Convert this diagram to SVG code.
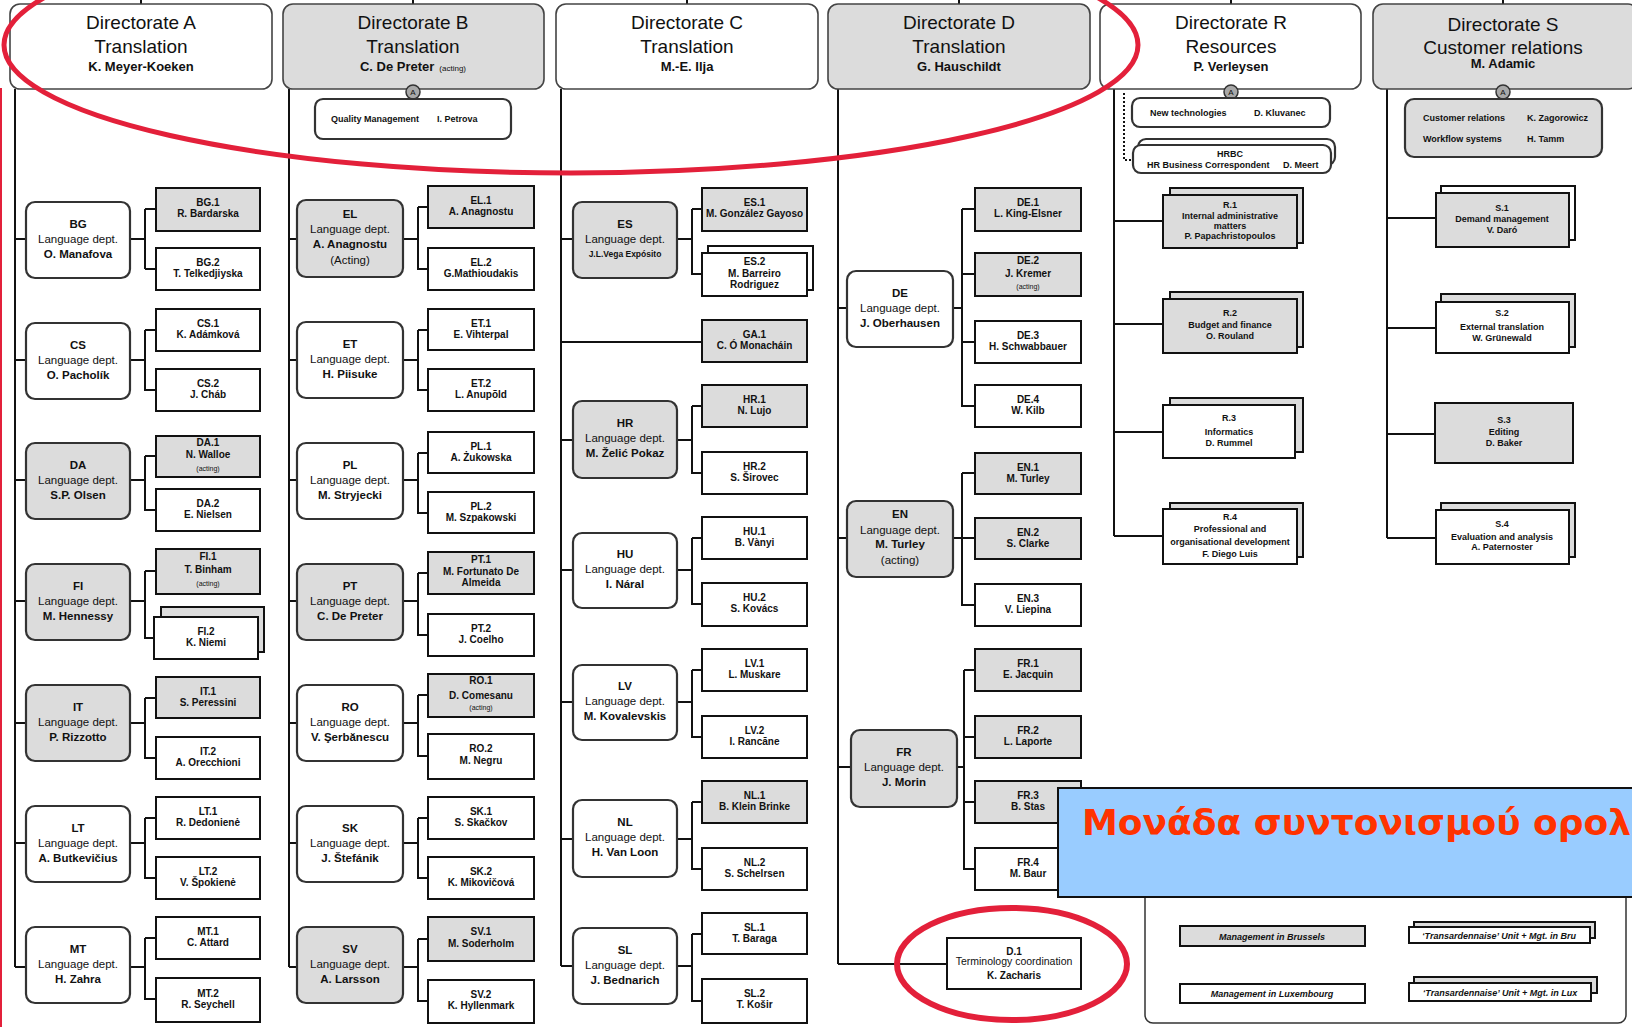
<svg xmlns="http://www.w3.org/2000/svg" width="1632" height="1027" viewBox="0 0 1632 1027">
<style>
.hw{fill:#fff;stroke:#444;stroke-width:1.6}
.hg{fill:#dcdcdc;stroke:#444;stroke-width:1.6}
.dw{fill:#fff;stroke:#333;stroke-width:2.2}
.dg{fill:#dcdcdc;stroke:#333;stroke-width:2.2}
.cw{fill:#fff;stroke:#111;stroke-width:2}
.cg{fill:#dcdcdc;stroke:#111;stroke-width:2}
.ln{fill:none;stroke:#111;stroke-width:2}
.t{font-family:"Liberation Sans",Arial,sans-serif;text-anchor:middle;fill:#111}
.s{font-family:"Liberation Sans",Arial,sans-serif;fill:#111}
.dn{font-size:11.5px}
.bd{font-weight:bold}
.cn{font-size:10px;font-weight:bold}
.ac{font-size:7px;font-weight:normal}
.h{font-size:19px}
.hn{font-size:13px;font-weight:bold}
.sm{font-size:9px;font-weight:bold}
.lg{font-size:9px;font-weight:bold;font-style:italic}
.red{fill:none;stroke:#e3203a}
</style>

<g id="connectors" class="ln">
<path d="M141 0V4M413 0V4M687 0V4M959 0V4M1231 0V4M1503 0V4"/>
<path d="M15 89V967M15 239H26M130 239H145M145 209V269M145 209H156M145 269H156
M15 360H26M130 360H145M145 330V390H156M145 330H156
M15 480H26M130 480H145M145 456V510H156M145 456H156
M15 601H26M130 601H145M145 571V638H154M145 571H156
M15 723H26M130 723H145M145 698V758H156M145 698H156
M15 843H26M130 843H145M145 818V878H156M145 818H156
M15 967H26M130 967H145M145 938V999H156M145 938H156"/>
<path d="M289 89V967M289 239H297M403 239H418M418 207V269H428M418 207H428
M289 360H297M403 360H418M418 330V390H428M418 330H428
M289 480H297M403 480H418M418 453V513H428M418 453H428
M289 601H297M403 601H418M418 573V635H428M418 573H428
M289 723H297M403 723H418M418 695V756H428M418 695H428
M289 843H297M403 843H418M418 818V878H428M418 818H428
M289 967H297M403 967H418M418 939V1001H428M418 939H428"/>
<path d="M561 89V966M561 239H573M677 239H692M692 209V274H702M692 209H702
M561 342H702
M561 440H573M677 440H692M692 406V473H702M692 406H702
M561 570H573M677 570H692M692 538V604H702M692 538H702
M561 702H573M677 702H692M692 670V737H702M692 670H702
M561 839H573M677 839H692M692 802V869H702M692 802H702
M561 966H573M677 966H692M692 934V1001H702M692 934H702"/>
<path d="M838 89V964M838 308H847M953 308H962M962 209V406H975M962 209H975M962 274H975M962 342H975
M838 538H847M953 538H975M962 473V605H975M962 473H975
M838 767H851M957 767H964M964 670V869H975M964 670H975M964 737H975M964 802H975
M838 964H947"/>
<path d="M1114 89V536M1114 221H1163M1114 324H1163M1114 432H1163M1114 536H1163"/>
<path d="M1387 89V538M1387 218H1436M1387 328H1436M1387 434H1435M1387 538H1436"/>
<path d="M1124 93V160H1132" stroke-dasharray="2 2"/>
</g>

<g id="dirA"><rect class="hw" x="10" y="4" width="262" height="85" rx="10"/><text class="t"><tspan x="141" y="29" class="h">Directorate A</tspan><tspan x="141" y="53" class="h">Translation</tspan><tspan x="141" y="71" class="hn">K. Meyer-Koeken</tspan></text></g>
<g id="dirB"><rect class="hg" x="283" y="4" width="261" height="85" rx="10"/><text class="t"><tspan x="413" y="29" class="h">Directorate B</tspan><tspan x="413" y="53" class="h">Translation</tspan></text><text class="t" x="413" y="71"><tspan class="hn">C. De Preter</tspan><tspan font-size="8px" dx="5">(acting)</tspan></text></g>
<g id="dirC"><rect class="hw" x="556" y="4" width="262" height="85" rx="10"/><text class="t"><tspan x="687" y="29" class="h">Directorate C</tspan><tspan x="687" y="53" class="h">Translation</tspan><tspan x="687" y="71" class="hn">M.-E. Ilja</tspan></text></g>
<g id="dirD"><rect class="hg" x="828" y="4" width="262" height="85" rx="10"/><text class="t"><tspan x="959" y="29" class="h">Directorate D</tspan><tspan x="959" y="53" class="h">Translation</tspan><tspan x="959" y="71" class="hn">G. Hauschildt</tspan></text></g>
<g id="dirR"><rect class="hw" x="1100" y="4" width="261" height="85" rx="10"/><text class="t"><tspan x="1231" y="29" class="h">Directorate R</tspan><tspan x="1231" y="53" class="h">Resources</tspan><tspan x="1231" y="71" class="hn">P. Verleysen</tspan></text></g>
<g id="dirS"><rect class="hg" x="1373" y="4" width="265" height="85" rx="10"/><text class="t"><tspan x="1503" y="31" class="h">Directorate S</tspan><tspan x="1503" y="54" class="h">Customer relations</tspan><tspan x="1503" y="68" class="hn">M. Adamic</tspan></text></g>

<g id="circles">
<circle cx="413" cy="92" r="7" fill="#a8a8a8" stroke="#333" stroke-width="1.5"/><text class="t" x="413" y="95" font-size="8px">A</text>
<circle cx="1231" cy="92" r="7" fill="#a8a8a8" stroke="#333" stroke-width="1.5"/><text class="t" x="1231" y="95" font-size="8px">A</text>
<circle cx="1503" cy="92" r="7" fill="#a8a8a8" stroke="#333" stroke-width="1.5"/><text class="t" x="1503" y="95" font-size="8px">A</text>
</g>

<g id="qm"><rect class="dw" x="315" y="99" width="196" height="40" rx="8"/><text class="s sm" x="331" y="122">Quality Management</text><text class="s sm" x="437" y="122">I. Petrova</text></g>
<g id="newtech"><rect class="dw" x="1132" y="98" width="198" height="29" rx="8"/><text class="s sm" x="1150" y="116">New technologies</text><text class="s sm" x="1254" y="116">D. Kluvanec</text></g>
<g id="hrbc"><rect class="dw" x="1138" y="139" width="197" height="26" rx="8"/><rect class="dw" x="1133" y="145" width="198" height="28" rx="8"/><text class="t sm" x="1230" y="157">HRBC</text><text class="s sm" x="1147" y="168">HR Business Correspondent</text><text class="s sm" x="1283" y="168">D. Meert</text></g>
<g id="custrel"><rect class="dg" x="1405" y="99" width="197" height="58" rx="9"/><text class="s sm"><tspan x="1423" y="121">Customer relations</tspan><tspan x="1527" y="121">K. Zagorowicz</tspan><tspan x="1423" y="142">Workflow systems</tspan><tspan x="1527" y="142">H. Tamm</tspan></text></g>

<!-- Column A -->
<g id="bg"><rect class="dw" x="26" y="202" width="104" height="76" rx="9"/><text class="t dn"><tspan x="78" y="228" class="bd">BG</tspan><tspan x="78" y="243">Language dept.</tspan><tspan x="78" y="258" class="bd">O. Manafova</tspan></text></g>
<g id="cs"><rect class="dw" x="26" y="323" width="104" height="76" rx="9"/><text class="t dn"><tspan x="78" y="349" class="bd">CS</tspan><tspan x="78" y="364">Language dept.</tspan><tspan x="78" y="379" class="bd">O. Pacholík</tspan></text></g>
<g id="da"><rect class="dg" x="26" y="443" width="104" height="76" rx="9"/><text class="t dn"><tspan x="78" y="469" class="bd">DA</tspan><tspan x="78" y="484">Language dept.</tspan><tspan x="78" y="499" class="bd">S.P. Olsen</tspan></text></g>
<g id="fi"><rect class="dg" x="26" y="564" width="104" height="76" rx="9"/><text class="t dn"><tspan x="78" y="590" class="bd">FI</tspan><tspan x="78" y="605">Language dept.</tspan><tspan x="78" y="620" class="bd">M. Hennessy</tspan></text></g>
<g id="it"><rect class="dg" x="26" y="685" width="104" height="76" rx="9"/><text class="t dn"><tspan x="78" y="711" class="bd">IT</tspan><tspan x="78" y="726">Language dept.</tspan><tspan x="78" y="741" class="bd">P. Rizzotto</tspan></text></g>
<g id="lt"><rect class="dw" x="26" y="806" width="104" height="76" rx="9"/><text class="t dn"><tspan x="78" y="832" class="bd">LT</tspan><tspan x="78" y="847">Language dept.</tspan><tspan x="78" y="862" class="bd">A. Butkevičius</tspan></text></g>
<g id="mt"><rect class="dw" x="26" y="927" width="104" height="76" rx="9"/><text class="t dn"><tspan x="78" y="953" class="bd">MT</tspan><tspan x="78" y="968">Language dept.</tspan><tspan x="78" y="983" class="bd">H. Zahra</tspan></text></g>

<g id="bg1"><rect class="cg" x="156" y="188" width="104" height="43"/><text class="t cn"><tspan x="208" y="206">BG.1</tspan><tspan x="208" y="217">R. Bardarska</tspan></text></g>
<g id="bg2"><rect class="cw" x="156" y="248" width="104" height="42"/><text class="t cn"><tspan x="208" y="266">BG.2</tspan><tspan x="208" y="277">T. Telkedjiyska</tspan></text></g>
<g id="cs1"><rect class="cw" x="156" y="309" width="104" height="42"/><text class="t cn"><tspan x="208" y="327">CS.1</tspan><tspan x="208" y="338">K. Adámková</tspan></text></g>
<g id="cs2"><rect class="cw" x="156" y="369" width="104" height="42"/><text class="t cn"><tspan x="208" y="387">CS.2</tspan><tspan x="208" y="398">J. Cháb</tspan></text></g>
<g id="da1"><rect class="cg" x="156" y="436" width="104" height="41"/><text class="t cn"><tspan x="208" y="446">DA.1</tspan><tspan x="208" y="458">N. Walloe</tspan><tspan x="208" y="471" class="ac">(acting)</tspan></text></g>
<g id="da2"><rect class="cw" x="156" y="489" width="104" height="42"/><text class="t cn"><tspan x="208" y="507">DA.2</tspan><tspan x="208" y="518">E. Nielsen</tspan></text></g>
<g id="fi1"><rect class="cg" x="156" y="549" width="104" height="45"/><text class="t cn"><tspan x="208" y="560">FI.1</tspan><tspan x="208" y="573">T. Binham</tspan><tspan x="208" y="586" class="ac">(acting)</tspan></text></g>
<g id="fi2"><rect class="cg" x="161" y="607" width="103" height="45"/><rect class="cw" x="154" y="617" width="104" height="42"/><text class="t cn"><tspan x="206" y="635">FI.2</tspan><tspan x="206" y="646">K. Niemi</tspan></text></g>
<g id="it1"><rect class="cg" x="156" y="677" width="104" height="41"/><text class="t cn"><tspan x="208" y="695">IT.1</tspan><tspan x="208" y="706">S. Peressini</tspan></text></g>
<g id="it2"><rect class="cw" x="156" y="737" width="104" height="42"/><text class="t cn"><tspan x="208" y="755">IT.2</tspan><tspan x="208" y="766">A. Orecchioni</tspan></text></g>
<g id="lt1"><rect class="cw" x="156" y="797" width="104" height="42"/><text class="t cn"><tspan x="208" y="815">LT.1</tspan><tspan x="208" y="826">R. Dedonienė</tspan></text></g>
<g id="lt2"><rect class="cw" x="156" y="857" width="104" height="42"/><text class="t cn"><tspan x="208" y="875">LT.2</tspan><tspan x="208" y="886">V. Špokienė</tspan></text></g>
<g id="mt1"><rect class="cw" x="156" y="917" width="104" height="42"/><text class="t cn"><tspan x="208" y="935">MT.1</tspan><tspan x="208" y="946">C. Attard</tspan></text></g>
<g id="mt2"><rect class="cw" x="156" y="978" width="104" height="44"/><text class="t cn"><tspan x="208" y="997">MT.2</tspan><tspan x="208" y="1008">R. Seychell</tspan></text></g>

<!-- Column B -->
<g id="el"><rect class="dg" x="297" y="200" width="106" height="77" rx="9"/><text class="t dn"><tspan x="350" y="218" class="bd">EL</tspan><tspan x="350" y="233">Language dept.</tspan><tspan x="350" y="248" class="bd">A. Anagnostu</tspan><tspan x="350" y="264">(Acting)</tspan></text></g>
<g id="et"><rect class="dw" x="297" y="322" width="106" height="76" rx="9"/><text class="t dn"><tspan x="350" y="348" class="bd">ET</tspan><tspan x="350" y="363">Language dept.</tspan><tspan x="350" y="378" class="bd">H. Piisuke</tspan></text></g>
<g id="pl"><rect class="dw" x="297" y="443" width="106" height="76" rx="9"/><text class="t dn"><tspan x="350" y="469" class="bd">PL</tspan><tspan x="350" y="484">Language dept.</tspan><tspan x="350" y="499" class="bd">M. Stryjecki</tspan></text></g>
<g id="pt"><rect class="dg" x="297" y="564" width="106" height="76" rx="9"/><text class="t dn"><tspan x="350" y="590" class="bd">PT</tspan><tspan x="350" y="605">Language dept.</tspan><tspan x="350" y="620" class="bd">C. De Preter</tspan></text></g>
<g id="ro"><rect class="dw" x="297" y="685" width="106" height="76" rx="9"/><text class="t dn"><tspan x="350" y="711" class="bd">RO</tspan><tspan x="350" y="726">Language dept.</tspan><tspan x="350" y="741" class="bd">V. Şerbănescu</tspan></text></g>
<g id="sk"><rect class="dw" x="297" y="806" width="106" height="76" rx="9"/><text class="t dn"><tspan x="350" y="832" class="bd">SK</tspan><tspan x="350" y="847">Language dept.</tspan><tspan x="350" y="862" class="bd">J. Štefánik</tspan></text></g>
<g id="sv"><rect class="dg" x="297" y="927" width="106" height="76" rx="9"/><text class="t dn"><tspan x="350" y="953" class="bd">SV</tspan><tspan x="350" y="968">Language dept.</tspan><tspan x="350" y="983" class="bd">A. Larsson</tspan></text></g>

<g id="el1"><rect class="cg" x="428" y="186" width="106" height="42"/><text class="t cn"><tspan x="481" y="204">EL.1</tspan><tspan x="481" y="215">A. Anagnostu</tspan></text></g>
<g id="el2"><rect class="cw" x="428" y="248" width="106" height="42"/><text class="t cn"><tspan x="481" y="266">EL.2</tspan><tspan x="481" y="277">G.Mathioudakis</tspan></text></g>
<g id="et1"><rect class="cw" x="428" y="309" width="106" height="41"/><text class="t cn"><tspan x="481" y="327">ET.1</tspan><tspan x="481" y="338">E. Vihterpal</tspan></text></g>
<g id="et2"><rect class="cw" x="428" y="369" width="106" height="42"/><text class="t cn"><tspan x="481" y="387">ET.2</tspan><tspan x="481" y="398">L. Anupõld</tspan></text></g>
<g id="pl1"><rect class="cw" x="428" y="432" width="106" height="41"/><text class="t cn"><tspan x="481" y="450">PL.1</tspan><tspan x="481" y="461">A. Żukowska</tspan></text></g>
<g id="pl2"><rect class="cw" x="428" y="492" width="106" height="41"/><text class="t cn"><tspan x="481" y="510">PL.2</tspan><tspan x="481" y="521">M. Szpakowski</tspan></text></g>
<g id="pt1"><rect class="cg" x="428" y="552" width="106" height="42"/><text class="t cn"><tspan x="481" y="563">PT.1</tspan><tspan x="481" y="575">M. Fortunato De</tspan><tspan x="481" y="586">Almeida</tspan></text></g>
<g id="pt2"><rect class="cw" x="428" y="614" width="106" height="42"/><text class="t cn"><tspan x="481" y="632">PT.2</tspan><tspan x="481" y="643">J. Coelho</tspan></text></g>
<g id="ro1"><rect class="cg" x="428" y="674" width="106" height="43"/><text class="t cn"><tspan x="481" y="684">RO.1</tspan><tspan x="481" y="699">D. Comesanu</tspan><tspan x="481" y="710" class="ac">(acting)</tspan></text></g>
<g id="ro2"><rect class="cw" x="428" y="734" width="106" height="45"/><text class="t cn"><tspan x="481" y="752">RO.2</tspan><tspan x="481" y="764">M. Negru</tspan></text></g>
<g id="sk1"><rect class="cw" x="428" y="797" width="106" height="42"/><text class="t cn"><tspan x="481" y="815">SK.1</tspan><tspan x="481" y="826">S. Skačkov</tspan></text></g>
<g id="sk2"><rect class="cw" x="428" y="857" width="106" height="42"/><text class="t cn"><tspan x="481" y="875">SK.2</tspan><tspan x="481" y="886">K. Mikovičová</tspan></text></g>
<g id="sv1"><rect class="cg" x="428" y="917" width="106" height="44"/><text class="t cn"><tspan x="481" y="935">SV.1</tspan><tspan x="481" y="947">M. Soderholm</tspan></text></g>
<g id="sv2"><rect class="cw" x="428" y="980" width="106" height="43"/><text class="t cn"><tspan x="481" y="998">SV.2</tspan><tspan x="481" y="1009">K. Hyllenmark</tspan></text></g>

<!-- Column C -->
<g id="es"><rect class="dg" x="573" y="202" width="104" height="76" rx="9"/><text class="t dn"><tspan x="625" y="228" class="bd">ES</tspan><tspan x="625" y="243">Language dept.</tspan><tspan x="625" y="257" class="bd" font-size="8.5px">J.L.Vega Expósito</tspan></text></g>
<g id="hr"><rect class="dg" x="573" y="401" width="104" height="77" rx="9"/><text class="t dn"><tspan x="625" y="427" class="bd">HR</tspan><tspan x="625" y="442">Language dept.</tspan><tspan x="625" y="457" class="bd">M. Želić Pokaz</tspan></text></g>
<g id="hu"><rect class="dw" x="573" y="533" width="104" height="75" rx="9"/><text class="t dn"><tspan x="625" y="558" class="bd">HU</tspan><tspan x="625" y="573">Language dept.</tspan><tspan x="625" y="588" class="bd">I. Náral</tspan></text></g>
<g id="lv"><rect class="dw" x="573" y="665" width="104" height="75" rx="9"/><text class="t dn"><tspan x="625" y="690" class="bd">LV</tspan><tspan x="625" y="705">Language dept.</tspan><tspan x="625" y="720" class="bd">M. Kovalevskis</tspan></text></g>
<g id="nl"><rect class="dw" x="573" y="800" width="104" height="77" rx="9"/><text class="t dn"><tspan x="625" y="826" class="bd">NL</tspan><tspan x="625" y="841">Language dept.</tspan><tspan x="625" y="856" class="bd">H. Van Loon</tspan></text></g>
<g id="sl"><rect class="dw" x="573" y="928" width="104" height="76" rx="9"/><text class="t dn"><tspan x="625" y="954" class="bd">SL</tspan><tspan x="625" y="969">Language dept.</tspan><tspan x="625" y="984" class="bd">J. Bednarich</tspan></text></g>

<g id="es1"><rect class="cg" x="702" y="188" width="105" height="43"/><text class="t cn"><tspan x="754.5" y="206">ES.1</tspan><tspan x="754.5" y="217">M. González Gayoso</tspan></text></g>
<g id="es2"><rect class="cw" x="708" y="246" width="105" height="44"/><rect class="cw" x="702" y="253" width="105" height="43"/><text class="t cn"><tspan x="754.5" y="265">ES.2</tspan><tspan x="754.5" y="277">M. Barreiro</tspan><tspan x="754.5" y="288">Rodriguez</tspan></text></g>
<g id="ga1"><rect class="cg" x="702" y="320" width="105" height="42"/><text class="t cn"><tspan x="754.5" y="338">GA.1</tspan><tspan x="754.5" y="349">C. Ó Monacháin</tspan></text></g>
<g id="hr1"><rect class="cg" x="702" y="385" width="105" height="42"/><text class="t cn"><tspan x="754.5" y="403">HR.1</tspan><tspan x="754.5" y="414">N. Lujo</tspan></text></g>
<g id="hr2"><rect class="cw" x="702" y="452" width="105" height="42"/><text class="t cn"><tspan x="754.5" y="470">HR.2</tspan><tspan x="754.5" y="481">S. Širovec</tspan></text></g>
<g id="hu1"><rect class="cw" x="702" y="517" width="105" height="42"/><text class="t cn"><tspan x="754.5" y="535">HU.1</tspan><tspan x="754.5" y="546">B. Vànyi</tspan></text></g>
<g id="hu2"><rect class="cw" x="702" y="583" width="105" height="43"/><text class="t cn"><tspan x="754.5" y="601">HU.2</tspan><tspan x="754.5" y="612">S. Kovács</tspan></text></g>
<g id="lv1"><rect class="cw" x="702" y="649" width="105" height="42"/><text class="t cn"><tspan x="754.5" y="667">LV.1</tspan><tspan x="754.5" y="678">L. Muskare</tspan></text></g>
<g id="lv2"><rect class="cw" x="702" y="716" width="105" height="42"/><text class="t cn"><tspan x="754.5" y="734">LV.2</tspan><tspan x="754.5" y="745">I. Rancāne</tspan></text></g>
<g id="nl1"><rect class="cg" x="702" y="781" width="105" height="42"/><text class="t cn"><tspan x="754.5" y="799">NL.1</tspan><tspan x="754.5" y="810">B. Klein Brinke</tspan></text></g>
<g id="nl2"><rect class="cw" x="702" y="848" width="105" height="42"/><text class="t cn"><tspan x="754.5" y="866">NL.2</tspan><tspan x="754.5" y="877">S. Schelrsen</tspan></text></g>
<g id="sl1"><rect class="cw" x="702" y="913" width="105" height="41"/><text class="t cn"><tspan x="754.5" y="931">SL.1</tspan><tspan x="754.5" y="942">T. Baraga</tspan></text></g>
<g id="sl2"><rect class="cw" x="702" y="979" width="105" height="44"/><text class="t cn"><tspan x="754.5" y="997">SL.2</tspan><tspan x="754.5" y="1008">T. Košir</tspan></text></g>

<!-- Column D -->
<g id="de"><rect class="dw" x="847" y="271" width="106" height="76" rx="9"/><text class="t dn"><tspan x="900" y="297" class="bd">DE</tspan><tspan x="900" y="312">Language dept.</tspan><tspan x="900" y="327" class="bd">J. Oberhausen</tspan></text></g>
<g id="en"><rect class="dg" x="847" y="501" width="106" height="76" rx="9"/><text class="t dn"><tspan x="900" y="518" class="bd">EN</tspan><tspan x="900" y="534">Language dept.</tspan><tspan x="900" y="548" class="bd">M. Turley</tspan><tspan x="900" y="564">(acting)</tspan></text></g>
<g id="fr"><rect class="dg" x="851" y="730" width="106" height="77" rx="9"/><text class="t dn"><tspan x="904" y="756" class="bd">FR</tspan><tspan x="904" y="771">Language dept.</tspan><tspan x="904" y="786" class="bd">J. Morin</tspan></text></g>

<g id="de1"><rect class="cg" x="975" y="188" width="106" height="43"/><text class="t cn"><tspan x="1028" y="206">DE.1</tspan><tspan x="1028" y="217">L. King-Elsner</tspan></text></g>
<g id="de2"><rect class="cg" x="975" y="253" width="106" height="43"/><text class="t cn"><tspan x="1028" y="264">DE.2</tspan><tspan x="1028" y="277">J. Kremer</tspan><tspan x="1028" y="289" class="ac">(acting)</tspan></text></g>
<g id="de3"><rect class="cw" x="975" y="321" width="106" height="42"/><text class="t cn"><tspan x="1028" y="339">DE.3</tspan><tspan x="1028" y="350">H. Schwabbauer</tspan></text></g>
<g id="de4"><rect class="cw" x="975" y="385" width="106" height="42"/><text class="t cn"><tspan x="1028" y="403">DE.4</tspan><tspan x="1028" y="414">W. Kilb</tspan></text></g>
<g id="en1"><rect class="cg" x="975" y="453" width="106" height="41"/><text class="t cn"><tspan x="1028" y="471">EN.1</tspan><tspan x="1028" y="482">M. Turley</tspan></text></g>
<g id="en2"><rect class="cg" x="975" y="518" width="106" height="41"/><text class="t cn"><tspan x="1028" y="536">EN.2</tspan><tspan x="1028" y="547">S. Clarke</tspan></text></g>
<g id="en3"><rect class="cw" x="975" y="584" width="106" height="42"/><text class="t cn"><tspan x="1028" y="602">EN.3</tspan><tspan x="1028" y="613">V. Liepina</tspan></text></g>
<g id="fr1"><rect class="cg" x="975" y="649" width="106" height="42"/><text class="t cn"><tspan x="1028" y="667">FR.1</tspan><tspan x="1028" y="678">E. Jacquin</tspan></text></g>
<g id="fr2"><rect class="cg" x="975" y="716" width="106" height="42"/><text class="t cn"><tspan x="1028" y="734">FR.2</tspan><tspan x="1028" y="745">L. Laporte</tspan></text></g>
<g id="fr3"><rect class="cg" x="975" y="781" width="106" height="42"/><text class="t cn"><tspan x="1028" y="799">FR.3</tspan><tspan x="1028" y="810">B. Stas</tspan></text></g>
<g id="fr4"><rect class="cw" x="975" y="848" width="106" height="42"/><text class="t cn"><tspan x="1028" y="866">FR.4</tspan><tspan x="1028" y="877">M. Baur</tspan></text></g>
<g id="d1"><rect class="cw" x="947" y="938" width="134" height="51"/><text class="t cn"><tspan x="1014" y="955">D.1</tspan><tspan x="1014" y="965" font-weight="normal" font-size="10.5px">Terminology coordination</tspan><tspan x="1014" y="979">K. Zacharis</tspan></text></g>

<!-- Directorate R -->
<g id="r1"><rect class="cg" x="1170" y="188" width="133" height="55"/><rect class="cg" x="1163" y="195" width="134" height="53"/><text class="t sm"><tspan x="1230" y="208">R.1</tspan><tspan x="1230" y="219">Internal administrative</tspan><tspan x="1230" y="229">matters</tspan><tspan x="1230" y="239">P. Papachristopoulos</tspan></text></g>
<g id="r2"><rect class="cg" x="1170" y="292" width="133" height="55"/><rect class="cg" x="1163" y="299" width="134" height="54"/><text class="t sm"><tspan x="1230" y="316">R.2</tspan><tspan x="1230" y="328">Budget and finance</tspan><tspan x="1230" y="339">O. Rouland</tspan></text></g>
<g id="r3"><rect class="cg" x="1170" y="398" width="133" height="54"/><rect class="cw" x="1163" y="405" width="132" height="53"/><text class="t sm"><tspan x="1229" y="421">R.3</tspan><tspan x="1229" y="435">Informatics</tspan><tspan x="1229" y="446">D. Rummel</tspan></text></g>
<g id="r4"><rect class="cg" x="1170" y="503" width="133" height="54"/><rect class="cw" x="1163" y="509" width="134" height="55"/><text class="t sm"><tspan x="1230" y="520">R.4</tspan><tspan x="1230" y="532">Professional and</tspan><tspan x="1230" y="545">organisational development</tspan><tspan x="1230" y="557">F. Diego Luis</tspan></text></g>

<!-- Directorate S -->
<g id="s1"><rect class="cw" x="1441" y="186" width="134" height="54"/><rect class="cg" x="1436" y="193" width="133" height="54"/><text class="t sm"><tspan x="1502" y="211">S.1</tspan><tspan x="1502" y="222">Demand management</tspan><tspan x="1502" y="233">V. Daró</tspan></text></g>
<g id="s2"><rect class="cg" x="1441" y="294" width="134" height="53"/><rect class="cw" x="1436" y="302" width="133" height="51"/><text class="t sm"><tspan x="1502" y="316">S.2</tspan><tspan x="1502" y="330">External translation</tspan><tspan x="1502" y="341">W. Grünewald</tspan></text></g>
<g id="s3"><rect class="cg" x="1435" y="403" width="138" height="60"/><text class="t sm"><tspan x="1504" y="423">S.3</tspan><tspan x="1504" y="435">Editing</tspan><tspan x="1504" y="446">D. Baker</tspan></text></g>
<g id="s4"><rect class="cg" x="1441" y="503" width="134" height="54"/><rect class="cw" x="1436" y="510" width="133" height="54"/><text class="t sm"><tspan x="1502" y="527">S.4</tspan><tspan x="1502" y="540">Evaluation and analysis</tspan><tspan x="1502" y="550">A. Paternoster</tspan></text></g>

<!-- Legend -->
<g id="legend">
<rect x="1145" y="860" width="481" height="163" rx="8" fill="#fff" stroke="#333" stroke-width="1.5"/>
<rect class="cg" x="1180" y="926" width="185" height="20" stroke-width="1.6"/><text class="t lg" x="1272" y="940">Management in Brussels</text>
<rect class="cg" x="1414" y="922" width="181" height="16" stroke-width="1.6"/><rect class="cw" x="1409" y="927" width="181" height="16" stroke-width="1.6"/><text class="t lg" x="1499" y="939" font-size="8px">‘Transardennaise’ Unit + Mgt. in Bru</text>
<rect class="cw" x="1180" y="984" width="185" height="19" stroke-width="1.6"/><text class="t lg" x="1272" y="997">Management in Luxembourg</text>
<rect class="cg" x="1414" y="977" width="183" height="16" stroke-width="1.6"/><rect class="cw" x="1409" y="983" width="182" height="18" stroke-width="1.6"/><text class="t lg" x="1500" y="996" font-size="8px">‘Transardennaise’ Unit + Mgt. in Lux</text>
</g>

<g id="callout">
<rect x="1058" y="788" width="590" height="109" fill="#99ccff" stroke="#111" stroke-width="2"/>
<text x="1082" y="835" font-family="'DejaVu Sans',Verdana,sans-serif" font-weight="bold" font-size="36px" fill="#ff3300">Μονάδα συντονισμού ορολ</text>
</g>

<g id="highlights">
<line x1="1" y1="88" x2="1" y2="1027" stroke="#e3203a" stroke-width="2"/>
<ellipse class="red" cx="571" cy="45" rx="567" ry="128" stroke-width="5"/>
<ellipse class="red" cx="1012" cy="964" rx="115" ry="56" stroke-width="6"/>
</g>
</svg>
